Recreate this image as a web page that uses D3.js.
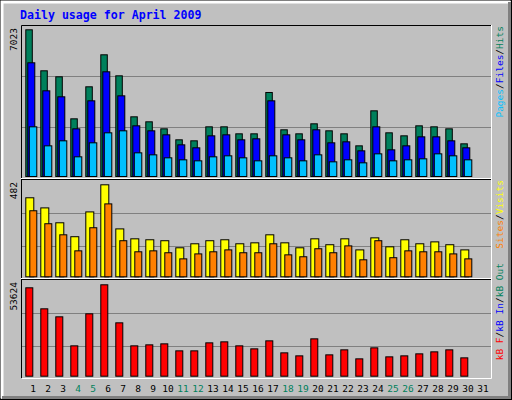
<!DOCTYPE html>
<html><head><meta charset="utf-8">
<script src="https://cdn.jsdelivr.net/npm/d3@7"></script>
<style>body{margin:0;background:#fff}svg{display:block}</style>
</head><body>
<script>
const days = d3.range(1, 32);
const weekend = [4,5,11,12,18,19,25,26];
const hits = [7023,5060,4772,2761,4294,5826,4820,2857,2618,2282,1756,1708,2378,2378,2043,2043,4022,2235,2043,2522,2187,2043,1468,3144,2091,1947,2426,2378,2282,1564];
const files = [5443,4102,3815,2282,3623,5012,3862,2426,2187,1995,1516,1373,1947,1995,1756,1804,3623,1995,1756,2235,1612,1660,1229,2378,1277,1468,1899,1899,1708,1373];
const pages = [2378,1468,1708,942,1612,2091,2187,1133,1037,894,798,750,942,990,894,750,990,894,750,1037,702,798,654,1085,750,798,846,1085,990,798];
const visits = [414,361,283,210,340,482,251,199,194,189,152,173,189,194,173,178,220,178,152,199,168,199,141,204,157,194,173,183,168,141];
const sites = [346,278,220,136,257,382,189,131,136,126,94,120,131,141,126,126,173,115,105,147,126,162,89,189,100,136,131,131,120,94];
const kbytes = [51861,39532,34835,17809,36596,53624,31312,17809,18396,18983,14873,14873,19570,20157,17809,16047,20744,13699,11938,21918,12525,15460,10176,16634,11351,11938,13112,14286,15460,10763];
const title = "Daily usage for April 2009";

const W=512,H=400,F="'DejaVu Sans Mono',monospace";
const svg=d3.select("body").append("svg").attr("width",W).attr("height",H);
svg.append("rect").attr("width",W).attr("height",H).attr("fill","#c0c0c0");
// 3D outer border
svg.append("rect").attr("x",0.5).attr("y",0.5).attr("width",W-1).attr("height",H-1).attr("fill","none").attr("stroke","#000");
svg.append("path").attr("d",`M1.5,${H-2} V1.5 H${W-2}`).attr("stroke","#fff").attr("stroke-width",3).attr("fill","none").attr("transform","translate(0.5,0.5)");
svg.append("path").attr("d",`M2,${H-2.5} H${W-2.5} V2`).attr("stroke","#808080").attr("stroke-width",3).attr("fill","none");

svg.append("text").attr("x",20).attr("y",19).attr("font-family",F).attr("font-weight","bold").attr("font-size",11.6).attr("fill","#0000ff").text(title);

const L=21,R=491;
// panel frame
svg.append("path").attr("d",`M${L}.5,378 V25.5 H${R}`).attr("stroke","#000").attr("fill","none");
svg.append("path").attr("d",`M${L+1},378.5 H${R}.5 V25`).attr("stroke","#fff").attr("fill","none");
[179,279].forEach(y=>{
  svg.append("line").attr("x1",L).attr("x2",R).attr("y1",y-0.5).attr("y2",y-0.5).attr("stroke","#fff");
  svg.append("line").attr("x1",L).attr("x2",R).attr("y1",y+0.5).attr("y2",y+0.5).attr("stroke","#000");
});

const x=d3.scaleLinear().domain([1,2]).range([25.3,40.3]);
const grid="#808080",stk="#000";
function panel(base,top,max,gridYs){
  gridYs.forEach(g=>svg.append("line").attr("x1",L+1).attr("x2",R).attr("y1",g+0.5).attr("y2",g+0.5).attr("stroke",grid));
  return d3.scaleLinear().domain([0,max]).range([base,top]);
}
function bars(data,y,off,w,col){
  svg.append("g").selectAll("rect").data(data).join("rect")
   .attr("x",(d,i)=>x(i+1)+off+0.5).attr("y",d=>y(d)+0.5)
   .attr("width",w).attr("height",d=>y(0)-y(d)).attr("fill",col).attr("stroke",stk);
}
const y1=panel(176,29.3,7023,[76,127]);
bars(hits,y1,0,6.5,"#00805c");bars(files,y1,2,7,"#0000ff");bars(pages,y1,3.5,7.5,"#00c0ff");
const y2=panel(276.3,184.3,482,[213,246]);
bars(visits,y2,0,8,"#ffff00");bars(sites,y2,4,7,"#ff8000");
const y3=panel(375.7,284.3,53624,[313,346]);
bars(kbytes,y3,0,7,"#ff0000");

svg.append("g").selectAll("text").data(days).join("text")
 .attr("x",d=>x(d)+7.7).attr("y",392).attr("text-anchor","middle").attr("font-family",F).attr("font-size",9.5)
 .attr("fill",d=>weekend.includes(d)?"#00805c":"#000").text(d=>d);

function vlabel(xp,yp,txt,anchor){
  svg.append("text").attr("transform",`translate(${xp},${yp}) rotate(-90)`).attr("text-anchor",anchor)
   .attr("font-family",F).attr("font-size",9.5).attr("fill","#000").text(txt);
}
vlabel(17,28,d3.max(hits),"end");vlabel(17,182,d3.max(visits),"end");vlabel(17,282,d3.max(kbytes),"end");

function rlabel(yp,parts){
  const t=svg.append("text").attr("transform",`translate(503,${yp}) rotate(-90)`).attr("text-anchor","end")
   .attr("font-family",F).attr("font-size",9.5);
  parts.forEach(p=>t.append("tspan").attr("fill",p[1]).text(p[0]));
}
rlabel(26,[["Pages","#00c0ff"],["/","#000"],["Files","#0000ff"],["/","#000"],["Hits","#00805c"]]);
rlabel(180,[["Sites","#ff8000"],["/","#000"],["Visits","#ffff00"]]);
rlabel(263,[["kB F","#ff0000"],["/","#000"],["kB In","#0000ff"],["/","#000"],["kB Out","#00805c"]]);
</script>
</body></html>
